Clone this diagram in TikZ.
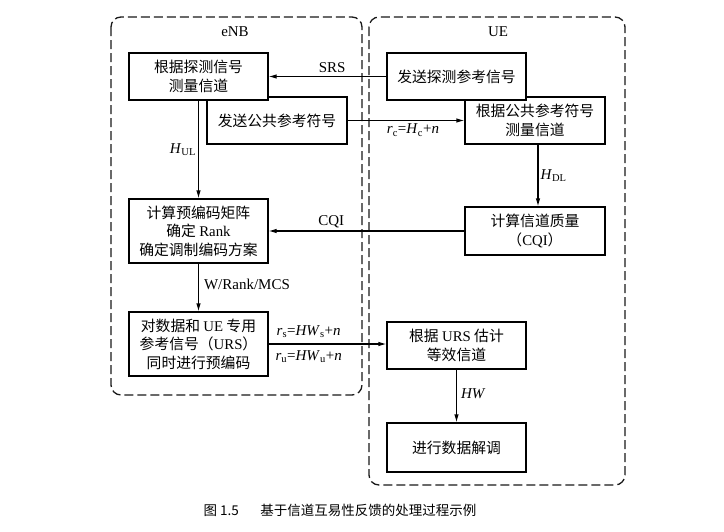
\documentclass[tikz,border=0pt]{standalone}
\usepackage{fontspec}
\setmainfont{Liberation Serif}
\newfontfamily\cjk{Noto Sans CJK SC}
\newcommand{\en}[1]{{\rmfamily #1}}
\usetikzlibrary{positioning, arrows.meta}

\begin{document}
\begin{tikzpicture}[
	x=1pt, y=-1pt,
	kuang/.style={
		rectangle,
		draw=black,
		line width=1.1pt,
		fill=white,
		minimum width=139pt,
		minimum height=47pt,
		inner sep=2pt,
		align=center,
		font=\cjk\fontsize{14.8}{18.5}\selectfont
	},
	xuxian/.style={
		draw=black!90,
		line width=1.3pt,
		dash pattern=on 9pt off 4pt,
		rounded corners=10pt
	},
	jiantou/.style={
		-{Latex[length=8pt,width=4.5pt]},
		line width=1.1pt
	},
	biaoqian/.style={
		font=\fontsize{15}{17}\selectfont,
		inner sep=2pt
	}
	]
	\useasboundingbox (0,0) rectangle (724,531);
	% eNB und UE
	\draw[xuxian] (111,17) rectangle (362,395);
	\draw[xuxian] (369,17) rectangle (625,485);
	\node[biaoqian] (enb) at (235,32) {eNB};
	\node[biaoqian] (ue) at (498,32) {UE};
	% Kaesten
	\node[kuang, minimum width=140pt] (gongshi) at (277,120.5) {发送公共参考符号};
	\node[kuang] (tance) at (198.5,76.5) {根据探测信号\\测量信道};
	\node[kuang, minimum width=140pt] (gongce) at (535,120.5) {根据公共参考符号\\测量信道};
	\node[kuang] (fasong) at (456.5,76.5) {发送探测参考信号};
	\node[kuang, minimum height=48pt, minimum width=140pt] (zhiliang) at (535,231)
	{计算信道质量\\（\en{CQI}）};
	\node[kuang, minimum height=64pt] (yubian) at (198.5,231)
	{计算预编码矩阵\\确定 \en{Rank}\\确定调制编码方案};
	\node[kuang, minimum height=64pt] (zhuanyong) at (198.5,344)
	{对数据和 \en{UE} 专用\\参考信号（\en{URS}）\\同时进行预编码};
	\node[kuang] (guji) at (456.5,345.5) {根据 \en{URS} 估计\\等效信道};
	\node[kuang, minimum height=49pt] (jietiao) at (456.5,447.5) {进行数据解调};
	% Pfeile
	\draw[jiantou] (fasong) -- node[biaoqian, above=1pt, pos=0.46] {SRS} (tance);
	\draw[jiantou] (gongshi) -- node[biaoqian, below=1pt, pos=0.56]
	{\textit{r}\textsubscript{c}=\textit{H}\textsubscript{c}+\textit{n}} (gongce);
	\draw[jiantou] (tance) -- node[biaoqian, left, pos=0.5]
	{\textit{H}\textsubscript{UL}} (yubian);
	\draw[jiantou] (gongce.south -| 538,0) -- node[biaoqian, right, pos=0.5]
	{\textit{H}\textsubscript{DL}} (zhiliang.north -| 538,0);
	\draw[jiantou] (zhiliang) -- node[biaoqian, above=1pt, pos=0.68] {CQI} (yubian);
	\draw[jiantou] (yubian) -- node[biaoqian, right=3pt, pos=0.43] {W/Rank/MCS} (zhuanyong);
	\draw[jiantou] (zhuanyong.east) -- node[biaoqian, above=4pt, pos=0.34]
	{\textit{r}\textsubscript{s}=\textit{HW}\textsubscript{s}+\textit{n}}
	node[biaoqian, below=4pt, pos=0.34]
	{\textit{r}\textsubscript{u}=\textit{HW}\textsubscript{u}+\textit{n}}
	(zhuanyong.east -| guji.west);
	\draw[jiantou] (guji) -- node[biaoqian, right=2pt, pos=0.46] {\textit{HW}} (jietiao);
	% Bildunterschrift
	\node[font=\cjk\fontsize{13.5}{15}\selectfont] (tuming) at (340,510)
	{图 1.5\hspace{1.6em}基于信道互易性反馈的处理过程示例};
\end{tikzpicture}
\end{document}
